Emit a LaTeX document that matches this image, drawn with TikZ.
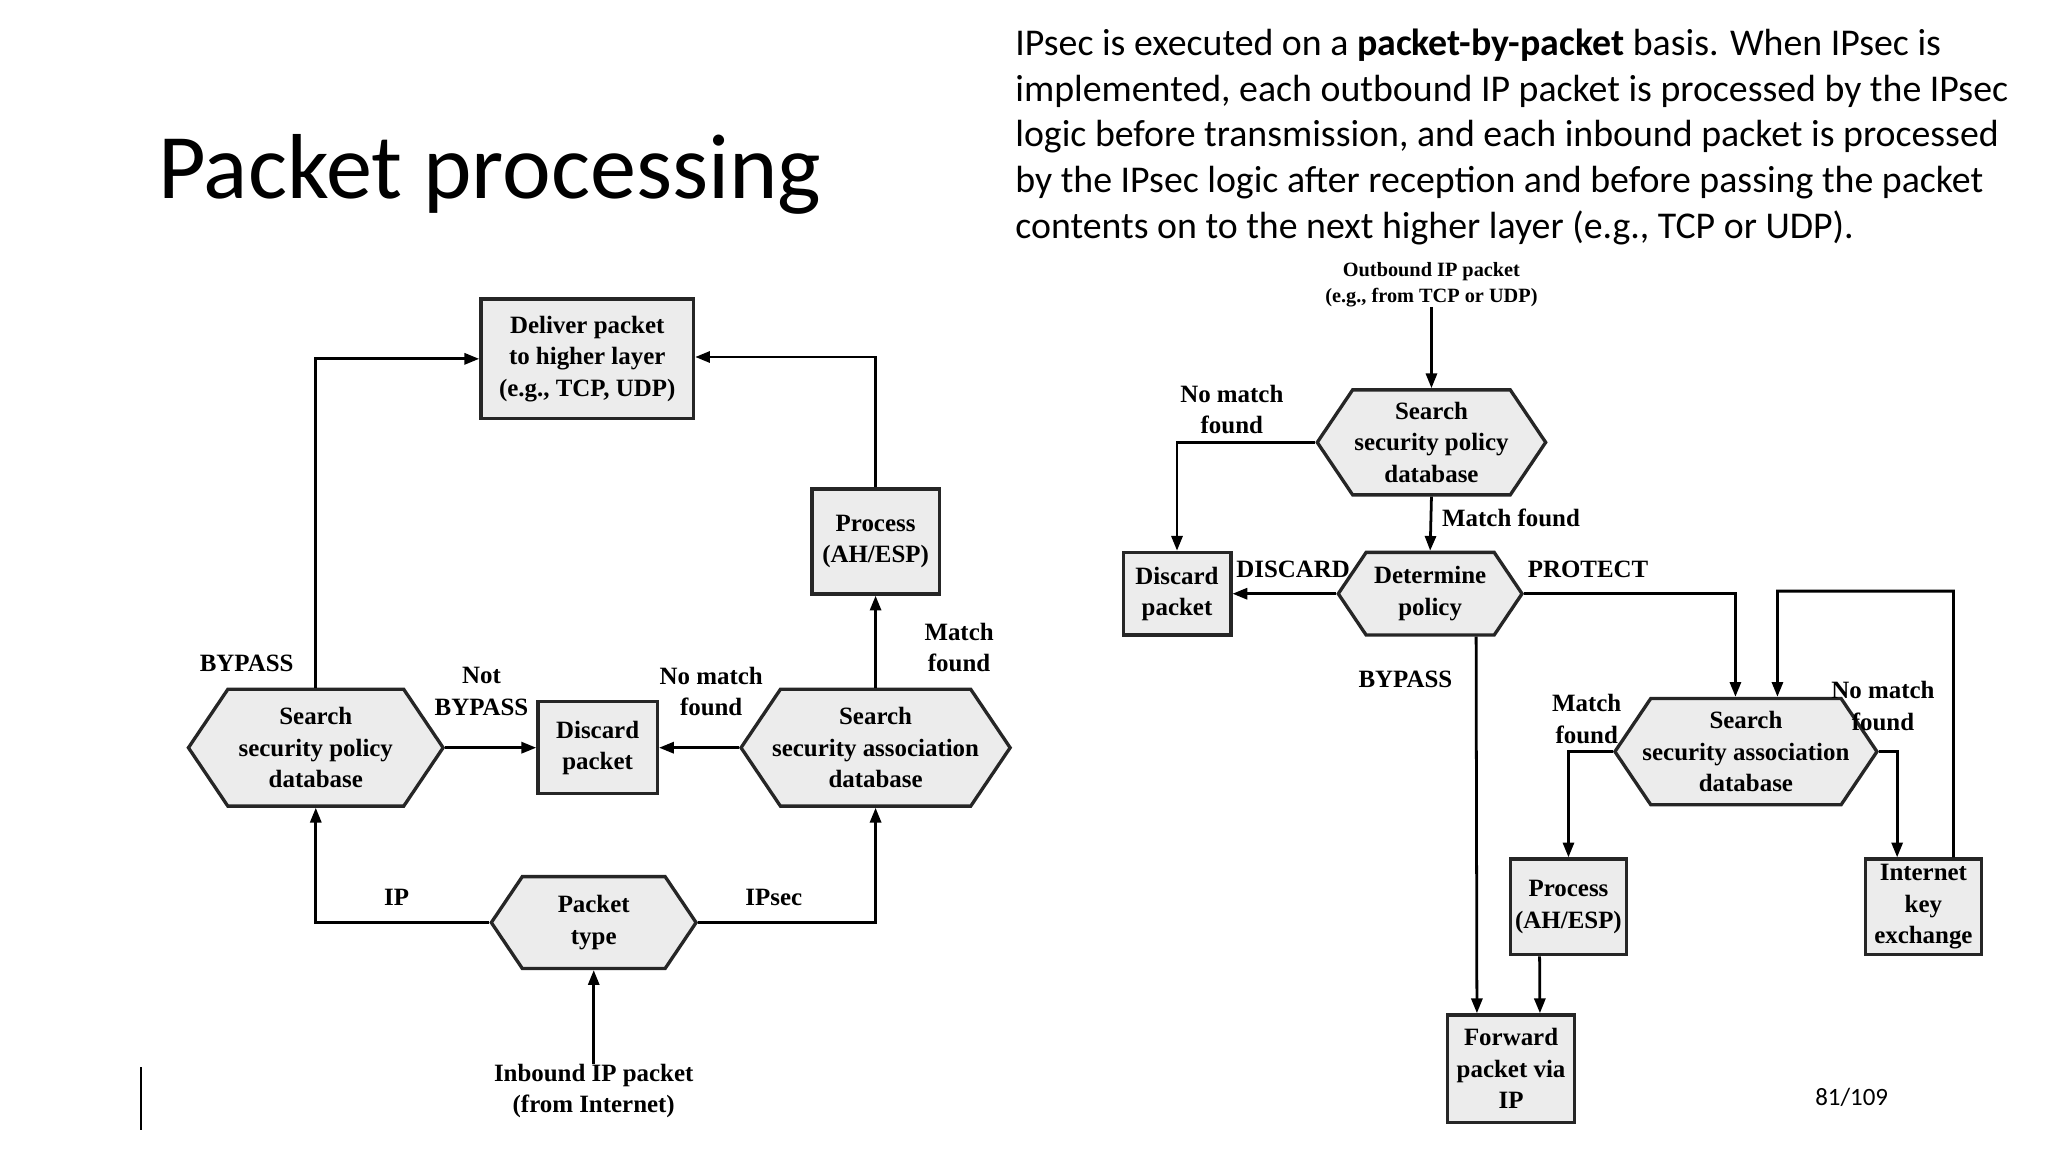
\documentclass[tikz,border=0pt]{standalone}
\usepackage{fontspec}
\setmainfont{Liberation Serif}
\newfontfamily\slidefont{Carlito}
\usetikzlibrary{shapes.symbols,arrows.meta}
\begin{document}
\begin{tikzpicture}[x=0.0497cm,y=-0.0497cm,
  base/.style={draw=black!85,line width=3.6pt,fill=gray!15,inner sep=0pt,align=center,
    font=\fontsize{27}{34}\selectfont\bfseries},
  box/.style={base,rectangle},
  hex/.style={base,signal,signal to=east and west,signal pointer angle=112,inner xsep=-9pt},
  arr/.style={line width=3pt,-{Triangle[length=16pt,width=12pt]}},
  lbl/.style={font=\fontsize{27}{34}\selectfont\bfseries,align=center,inner sep=0pt},
  txt/.style={font=\slidefont\fontsize{41}{49.6}\selectfont,align=left,inner sep=0pt}]
\useasboundingbox (0cm,0cm) rectangle (78cm,-43.875cm);
% slide text
\node[anchor=base west,inner sep=0pt,font=\slidefont\fontsize{100}{110}\selectfont] (title) at (121,152) {Packet processing};
\node[txt,anchor=north west] (para) at (778,22) {IPsec is executed on a \textbf{packet-by-packet} basis. When IPsec is\\
implemented, each outbound IP packet is processed by the IPsec\\
logic before transmission, and each inbound packet is processed\\
by the IPsec logic after reception and before passing the packet\\
contents on to the next higher layer (e.g., TCP or UDP).};
\node[inner sep=0pt,font=\slidefont\fontsize{27}{30}\selectfont] (page) at (1419,841) {81/109};
\coordinate (v1) at (108,818); \coordinate (v2) at (108,866);
\draw[line width=1.5pt] (v1) -- (v2);
% left diagram
\node[box,minimum width=8.1cm,minimum height=4.55cm] (deliver) at (450,275) {Deliver packet\\to higher layer\\(e.g., TCP, UDP)};
\node[box,minimum width=4.85cm,minimum height=4cm] (procL) at (671,415) {Process\\(AH/ESP)};
\node[hex,minimum width=9.7cm,minimum height=4.45cm] (spdL) at (242,573) {Search\\security policy\\database};
\node[box,minimum width=4.55cm,minimum height=3.5cm] (discL) at (458,573) {Discard\\packet};
\node[hex,minimum width=9.6cm,minimum height=4.45cm] (sadL) at (671,573) {Search\\security association\\database};
\node[hex,minimum width=7.8cm,minimum height=3.5cm] (ptype) at (455,707) {Packet\\type};
\node[lbl] (inb) at (455,836) {Inbound IP packet\\(from Internet)};
\draw[arr] (spdL.north) |- (deliver.west);
\draw[arr] (procL.north) |- ([yshift=2pt]deliver.east);
\draw[arr] (sadL.north) -- (procL.south);
\draw[arr] (spdL.east) -- (discL.west);
\draw[arr] (sadL.west) -- (discL.east);
\draw[arr] (ptype.west) -| (spdL.south);
\draw[arr] (ptype.east) -| (sadL.south);
\draw[arr] (inb.north) -- (ptype.south);
\node[lbl] at (189,508) {BYPASS};
\node[lbl] at (735,496) {Match\\found};
\node[lbl] at (369,530) {Not\\BYPASS};
\node[lbl] at (545,530) {No match\\found};
\node[lbl] at (304,688) {IP};
\node[lbl] at (593,688) {IPsec};
% right diagram
\node[lbl,font=\fontsize{22}{28}\selectfont\bfseries] (outb) at (1097,218) {Outbound IP packet\\(e.g., from TCP or UDP)};
\begin{scope}[every node/.append style={font=\fontsize{22}{29}\selectfont\bfseries}]
\node[hex,minimum width=8.7cm,minimum height=4cm] (spdR) at (1097,339) {Search\\security policy\\database};
\node[hex,minimum width=7cm,minimum height=3.15cm] (det) at (1096,455) {Determine\\policy};
\node[box,minimum width=4.1cm,minimum height=3.15cm] (discR) at (902,455) {Discard\\packet};
\node[hex,minimum width=8.7cm,minimum height=4.05cm] (sadR) at (1338,576) {Search\\security association\\database};
\node[box,minimum width=4.4cm,minimum height=3.65cm] (procR) at (1202,695) {Process\\(AH/ESP)};
\node[box,minimum width=4.4cm,minimum height=3.65cm] (ike) at (1474,695) {Internet\\key\\exchange};
\node[box,minimum width=4.85cm,minimum height=4.1cm] (fwd) at (1158,819) {Forward\\packet via\\IP};
\node[lbl] at (944,314) {No match\\found};
\node[lbl] at (1158,397) {Match found};
\node[lbl] at (991,436) {DISCARD};
\node[lbl] at (1217,436) {PROTECT};
\node[lbl] at (1077,521) {BYPASS};
\node[lbl] at (1216,551) {Match\\found};
\node[lbl] at (1443,541) {No match\\found};
\end{scope}
\draw[arr] (outb.south) -- (spdR.north);
\draw[arr] (spdR.west) -| (discR.north);
\draw[arr] (spdR.south) -- (det.north);
\draw[arr] (det.west) -- (discR.east);
\draw[arr] (det.east) -| ([xshift=-0.4cm]sadR.north);
\draw[arr] ([xshift=1.75cm]det.south) -- ([xshift=-1.3cm]fwd.north);
\draw[arr] (sadR.west) -| (procR.north);
\draw[arr] (sadR.east) -| ([xshift=-1cm]ike.north);
\coordinate (k1) at (1497,453);
\draw[arr] ([xshift=1.15cm]ike.north) -- (k1) -| ([xshift=1.2cm]sadR.north);
\draw[arr] ([xshift=-1.1cm]procR.south) -- ([xshift=1.1cm]fwd.north);
\end{tikzpicture}
\end{document}
